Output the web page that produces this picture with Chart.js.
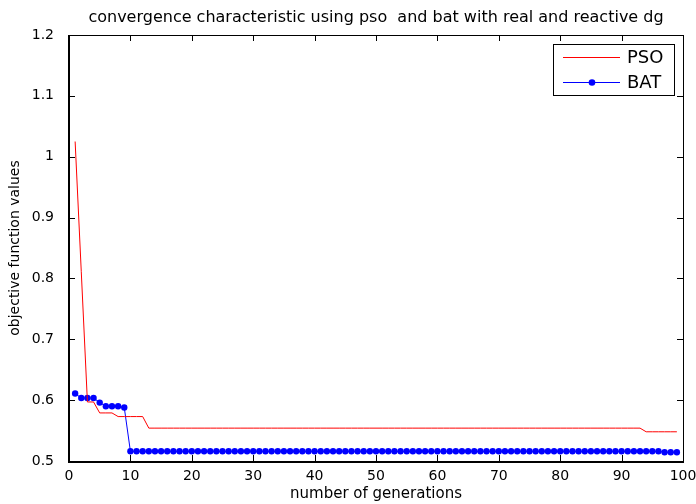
<!DOCTYPE html>
<html>
<head>
<meta charset="utf-8">
<script src="https://cdn.jsdelivr.net/npm/chart.js@4/dist/chart.umd.min.js"></script>
<style>
  body { margin: 0; background: #fff; }
  canvas { display: block; }
</style>
</head>
<body>
<canvas id="grafico" width="696" height="504"></canvas>
<script>
// generations 1..99
const geracoes = [];
for (let i = 1; i <= 99; i++) geracoes.push(i);

const psoInicio = [1.025, 0.811, 0.597, 0.597, 0.579, 0.579, 0.579, 0.573, 0.573, 0.573, 0.573, 0.573];
const psoMeio = Array(81).fill(0.554);   // gen 13..93
const psoFim = Array(6).fill(0.548);     // gen 94..99
const pso = psoInicio.concat(psoMeio, psoFim);

const batInicio = [0.611, 0.6035, 0.6035, 0.6035, 0.596, 0.590, 0.590, 0.590, 0.588];
const batMeio = Array(87).fill(0.516);   // gen 10..96
const batFim = [0.5145, 0.5145, 0.5145]; // gen 97..99
const bat = batInicio.concat(batMeio, batFim);

const ticksX = [0, 10, 20, 30, 40, 50, 60, 70, 80, 90, 100];
const ticksY = [0.5, 0.6, 0.7, 0.8, 0.9, 1.0, 1.1, 1.2];

const titulo = "convergence characteristic using pso  and bat with real and reactive dg";

Chart.defaults.color = "#000";
Chart.defaults.font.family = "'DejaVu Sans', sans-serif";

// inward ticks, box, title and legend like matlab
const eixos = {
  id: "eixos",
  afterDatasetsDraw(chart) {
    const { ctx, chartArea: a, scales: { x, y } } = chart;
    const L = Math.round(a.left), R = Math.round(a.right);
    const T = Math.round(a.top), B = Math.round(a.bottom);
    ctx.save();
    ctx.strokeStyle = "#000";
    ctx.lineWidth = 1;
    ctx.beginPath();
    ticksX.forEach(v => {
      const px = Math.round(x.getPixelForValue(v)) + 0.5;
      ctx.moveTo(px, B); ctx.lineTo(px, B - 6);
      ctx.moveTo(px, T); ctx.lineTo(px, T + 6);
    });
    ticksY.forEach(v => {
      const py = Math.round(y.getPixelForValue(v)) + 0.5;
      ctx.moveTo(L, py); ctx.lineTo(L + 6, py);
      ctx.moveTo(R, py); ctx.lineTo(R - 6, py);
    });
    ctx.stroke();
    ctx.strokeRect(L + 0.5, T + 0.5, R - L, B - T);
    // left and bottom axis a bit heavier
    ctx.lineWidth = 2;
    ctx.beginPath();
    ctx.moveTo(L, T); ctx.lineTo(L, B + 1); ctx.lineTo(R + 1, B + 1);
    ctx.stroke();

    // titulo
    ctx.fillStyle = "#000";
    ctx.font = "16px 'DejaVu Sans'";
    ctx.textAlign = "center";
    ctx.textBaseline = "alphabetic";
    ctx.fillText(titulo, (a.left + a.right) / 2, 22);

    // legenda
    ctx.lineWidth = 1;
    ctx.textAlign = "left";
    ctx.fillStyle = "#fff";
    ctx.fillRect(553.5, 44.5, 121, 51);
    ctx.strokeStyle = "#000";
    ctx.strokeRect(553.5, 44.5, 121, 51);
    ctx.strokeStyle = "#ff0000";
    ctx.beginPath(); ctx.moveTo(563, 57.5); ctx.lineTo(620, 57.5); ctx.stroke();
    ctx.strokeStyle = "#0000ff";
    ctx.beginPath(); ctx.moveTo(563, 82.5); ctx.lineTo(620, 82.5); ctx.stroke();
    ctx.fillStyle = "#0000ff";
    ctx.beginPath(); ctx.arc(592, 82.5, 3.3, 0, Math.PI * 2); ctx.fill();
    ctx.fillStyle = "#000";
    ctx.font = "18px 'DejaVu Sans'";
    ctx.textBaseline = "middle";
    ctx.fillText("PSO", 627, 58);
    ctx.fillText("BAT", 627, 83);
    ctx.restore();
  }
};

new Chart(document.getElementById("grafico"), {
  type: "line",
  data: {
    datasets: [
      {
        label: "PSO",
        data: geracoes.map((g, i) => ({ x: g, y: pso[i] })),
        borderColor: "#ff0000",
        borderWidth: 1,
        pointRadius: 0,
        tension: 0
      },
      {
        label: "BAT",
        data: geracoes.map((g, i) => ({ x: g, y: bat[i] })),
        borderColor: "#0000ff",
        backgroundColor: "#0000ff",
        borderWidth: 1,
        pointRadius: 3.2,
        pointBorderWidth: 0,
        tension: 0
      }
    ]
  },
  plugins: [eixos],
  options: {
    responsive: false,
    animation: false,
    layout: { padding: { top: 35, right: 13 } },
    plugins: {
      legend: { display: false },
      tooltip: { enabled: false },
      title: { display: false }
    },
    scales: {
      x: {
        type: "linear",
        min: 0,
        max: 100,
        afterBuildTicks: s => { s.ticks = ticksX.map(v => ({ value: v })); },
        afterFit: s => { s.height = 43; s.paddingLeft = 0; s.paddingRight = 0; },
        grid: { display: false },
        border: { display: false },
        ticks: { font: { size: 14 }, padding: -1, maxRotation: 0 },
        title: {
          display: true,
          text: "number of generations",
          font: { size: 15 },
          padding: { top: 0, bottom: 1 }
        }
      },
      y: {
        min: 0.5,
        max: 1.2,
        afterBuildTicks: s => { s.ticks = ticksY.map(v => ({ value: v })); },
        afterFit: s => { s.width = 69; s.paddingTop = 0; s.paddingBottom = 0; },
        grid: { display: false },
        border: { display: false },
        ticks: {
          font: { size: 14 },
          padding: 7,
          callback: v => String(+v.toFixed(1))
        },
        title: {
          display: true,
          text: "objective function values",
          font: { size: 14 },
          padding: { top: 6.6, bottom: 0 }
        }
      }
    }
  }
});
</script>
</body>
</html>
